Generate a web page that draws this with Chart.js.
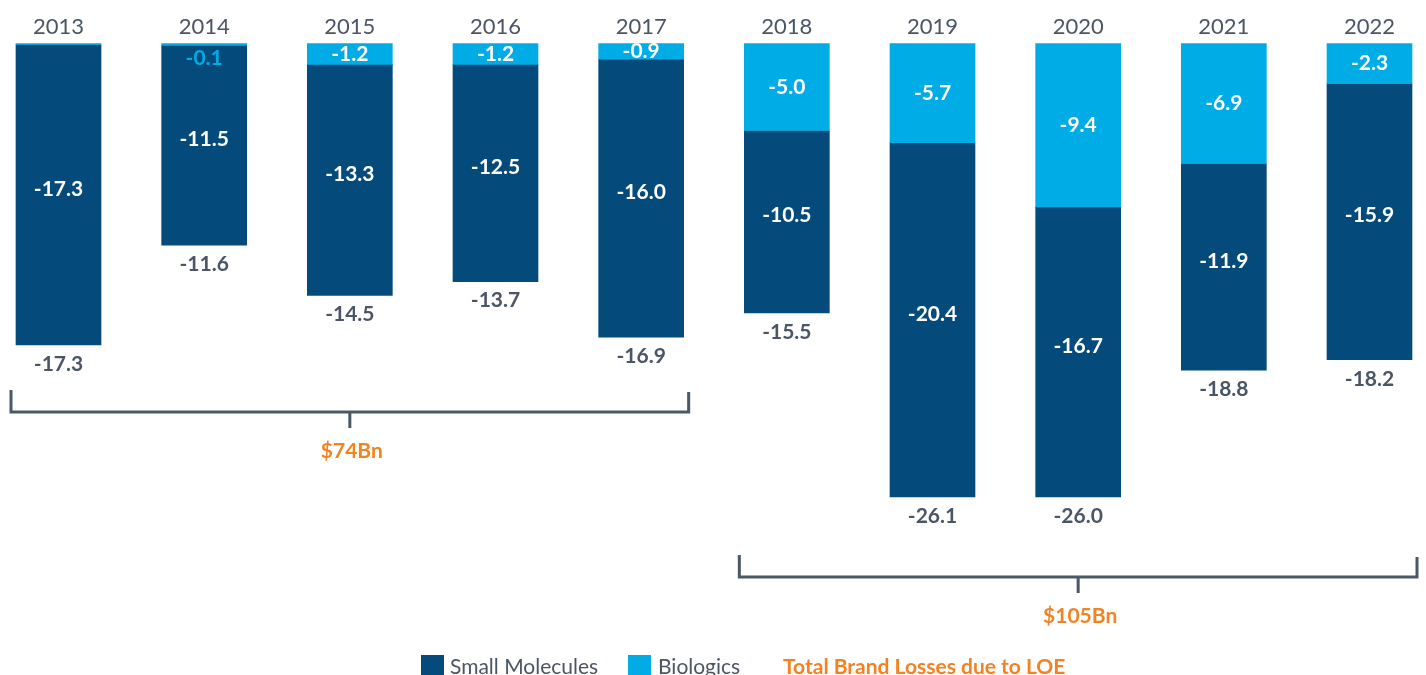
<!DOCTYPE html>
<html>
<head>
<meta charset="utf-8">
<script src="https://cdn.jsdelivr.net/npm/chart.js@4"></script>
<style>
  html, body { margin: 0; padding: 0; background: #fff; overflow: hidden; }
  #wrap { width: 1426px; height: 675px; }
</style>
</head>
<body>
<div id="wrap"><canvas id="myChart" width="1426" height="675"></canvas></div>
<script>
const years = ["2013", "2014", "2015", "2016", "2017", "2018", "2019", "2020", "2021", "2022"];
const smallMolecules = [-17.3, -11.5, -13.3, -12.5, -16.0, -10.5, -20.4, -16.7, -11.9, -15.9];
const biologics = [-0.05, -0.1, -1.2, -1.2, -0.9, -5.0, -5.7, -9.4, -6.9, -2.3];
const totals = [-17.3, -11.6, -14.5, -13.7, -16.9, -15.5, -26.1, -26.0, -18.8, -18.2];
const groupLabels = ["$74Bn", "$105Bn"];
const groupRanges = [[0, 4], [5, 9]];
const legendLabels = ["Small Molecules", "Biologics", "Total Brand Losses due to LOE"];

const DARK = "#044a7b";
const LIGHT = "#00ace6";
const GREY = "#4a5565";
const ORANGE = "#f58220";
const FONT = "Lato, 'Open Sans', sans-serif";

const labelsPlugin = {
  id: "labels",
  afterDatasetsDraw(chart) {
    const ctx = chart.ctx;
    const bio = chart.getDatasetMeta(0).data;
    const sm = chart.getDatasetMeta(1).data;
    ctx.save();
    ctx.textAlign = "center";
    ctx.textBaseline = "middle";
    ctx.font = "bold 21px " + FONT;

    // values inside the segments
    bio.forEach((bar, i) => {
      const v = biologics[i];
      if (Math.abs(v) < 0.1) return;
      if (Math.abs(v) < 0.5) {
        ctx.fillStyle = LIGHT;
        ctx.fillText(v.toFixed(1), bar.x, bar.y + 13);
      } else {
        ctx.fillStyle = "#fff";
        ctx.fillText(v.toFixed(1), bar.x, (bar.y + bar.base) / 2);
      }
    });
    sm.forEach((bar, i) => {
      ctx.fillStyle = "#fff";
      ctx.fillText(smallMolecules[i].toFixed(1), bar.x, (bar.y + bar.base) / 2 - 6);
    });

    // totals under each bar
    ctx.fillStyle = GREY;
    sm.forEach((bar, i) => {
      ctx.fillText(totals[i].toFixed(1), bar.x, bar.y + 19);
    });

    // brackets
    const gaps = [67, 80];
    groupRanges.forEach(([a, b], g) => {
      const first = sm[a], last = sm[b];
      let low = 0;
      for (let i = a; i <= b; i++) low = Math.max(low, sm[i].y);
      const y = low + gaps[g];
      const x1 = first.x - first.width / 2 - 5;
      const x2 = last.x + last.width / 2 + 5;
      const xm = (x1 + x2) / 2;
      ctx.strokeStyle = "#4a5868";
      ctx.lineWidth = 3;
      ctx.beginPath();
      ctx.moveTo(x1, y - 22);
      ctx.lineTo(x1, y);
      ctx.lineTo(x2, y);
      ctx.lineTo(x2, y - 20);
      ctx.moveTo(xm, y);
      ctx.lineTo(xm, y + 16);
      ctx.stroke();
      ctx.fillStyle = ORANGE;
      ctx.fillText(groupLabels[g], xm + 2, y + 39);
    });

    // legend
    ctx.textAlign = "left";
    const ly = 667;
    ctx.fillStyle = DARK;
    ctx.fillRect(421, ly - 12, 23, 23);
    ctx.fillStyle = LIGHT;
    ctx.fillRect(628, ly - 12, 23, 23);
    ctx.font = "21px " + FONT;
    ctx.fillStyle = GREY;
    ctx.fillText(legendLabels[0], 450, ly);
    ctx.fillText(legendLabels[1], 658, ly);
    ctx.font = "bold 21px " + FONT;
    ctx.fillStyle = ORANGE;
    ctx.fillText(legendLabels[2], 783, ly);
    ctx.restore();
  }
};

const ctx = document.getElementById("myChart").getContext("2d");
const chart = new Chart(ctx, {
  type: "bar",
  data: {
    labels: years,
    datasets: [
      { label: "Biologics", data: biologics, backgroundColor: LIGHT, clip: false },
      { label: "Small Molecules", data: smallMolecules, backgroundColor: DARK, clip: false }
    ]
  },
  options: {
    responsive: false,
    animation: false,
    events: [],
    layout: { padding: { left: 58.5, right: 56.5, top: 10, bottom: 75.5 } },
    datasets: { bar: { barThickness: 85 } },
    plugins: { legend: { display: false }, tooltip: { enabled: false } },
    scales: {
      x: {
        position: "top",
        stacked: true,
        offset: false,
        grid: { display: false, drawTicks: false },
        border: { display: false },
        ticks: { color: GREY, font: { family: FONT, size: 22 }, padding: 3.6, maxRotation: 0 }
      },
      y: {
        stacked: true,
        display: false,
        min: -32,
        max: 0
      }
    }
  },
  plugins: [labelsPlugin]
});
</script>
</body>
</html>
